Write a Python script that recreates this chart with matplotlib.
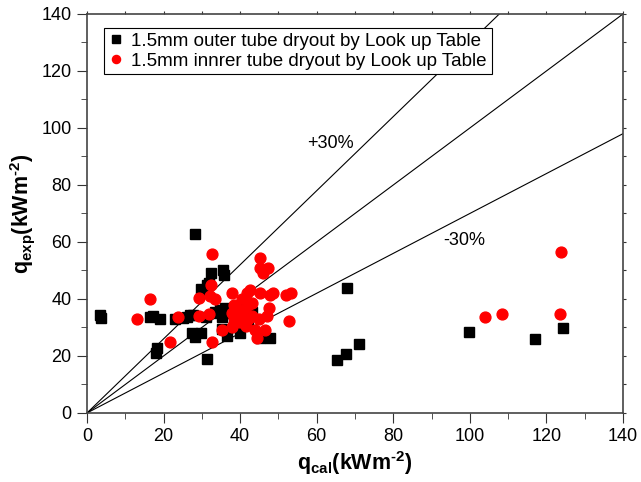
import numpy as np
import matplotlib.pyplot as plt

plt.rcParams['font.family'] = ['Liberation Sans', 'DejaVu Sans']
plt.rcParams['mathtext.fontset'] = 'custom'
plt.rcParams['mathtext.rm'] = 'Liberation Sans'
plt.rcParams['mathtext.it'] = 'Liberation Sans:italic'
plt.rcParams['mathtext.bf'] = 'Liberation Sans:bold'

# outer tube (black squares)
outer_x = [3.4, 3.6, 16.4, 17.3, 19.1, 18.2, 18.0, 23.0, 25.1, 26.0, 26.9, 27.8,
           28.2, 27.3, 28.2, 29.9, 29.9, 30.4, 31.4, 32.0, 31.3, 32.4, 35.4, 35.8,
           31.0, 33.4, 33.9, 35.2, 34.7, 36.0, 37.0, 38.0, 35.2, 36.5, 38.5, 40.0,
           42.0, 40.5, 43.0, 45.2, 47.8, 67.8, 65.2, 67.6, 71.1, 99.7, 117.0, 124.4]
outer_y = [34.4, 33.3, 33.6, 34.0, 32.9, 22.7, 21.0, 32.9, 33.2, 33.8, 34.4, 34.4,
           62.8, 28.2, 26.5, 28.2, 43.5, 43.2, 44.9, 45.5, 18.8, 49.0, 50.2, 48.4,
           33.7, 35.5, 35.0, 33.8, 36.1, 37.0, 35.0, 36.5, 29.4, 27.0, 30.0, 28.0,
           32.0, 37.5, 35.5, 26.2, 26.2, 44.0, 18.6, 20.6, 24.2, 28.5, 26.1, 29.7]

# inner tube (red circles)
inner_x = [13.0, 16.4, 21.7, 23.9, 29.2, 31.9, 29.2, 32.1, 33.4, 32.5,
           32.7, 32.7, 35.2, 45.2, 45.2, 47.3, 46.0,
           37.8, 41.7, 42.5, 45.2, 47.8, 48.6, 52.1, 53.4, 52.7,
           38.0, 39.0, 41.0, 42.0, 40.0, 38.0, 43.0, 44.0, 38.5, 45.0, 40.5,
           41.5, 38.5, 43.0, 40.5, 38.5, 39.5, 42.0,
           46.5, 44.3, 47.0, 47.5, 103.9, 108.3, 123.5, 123.7]
inner_y = [32.9, 39.9, 24.8, 33.8, 34.2, 34.6, 40.2, 41.1, 40.0, 44.9,
           55.9, 25.0, 29.1, 54.3, 50.8, 50.8, 49.0,
           42.0, 42.0, 43.0, 42.2, 41.4, 42.2, 41.4, 42.2, 32.3,
           35.0, 37.0, 36.0, 38.0, 32.0, 30.0, 34.0, 29.0, 33.5, 33.0, 34.5,
           30.5, 31.5, 38.5, 40.0, 38.0, 36.0, 33.0,
           29.1, 26.2, 34.0, 37.0, 33.6, 34.6, 34.6, 56.5]

fig = plt.figure(figsize=(6.41, 4.82), dpi=100)
ax = fig.add_axes([0.1357, 0.1432, 0.9719 - 0.1357, 0.971 - 0.1432])

xl = np.array([0, 140])
ax.plot(xl, xl, color='black', lw=0.8)
ax.plot(xl, 1.3 * xl, color='black', lw=0.8)
ax.plot(xl, 0.7 * xl, color='black', lw=0.8)

ax.plot(outer_x, outer_y, 's', color='black', markersize=7.5, linestyle='none',
        label='1.5mm outer tube dryout by Look up Table')
ax.plot(inner_x, inner_y, 'o', color='red', markersize=7.8, linestyle='none',
        label='1.5mm innrer tube dryout by Look up Table')

ax.text(63.5, 94.5, '+30%', fontsize=13, ha='center', va='center')
ax.text(98.5, 60.5, '-30%', fontsize=13, ha='center', va='center')

ax.set_xlim(0, 140)
ax.set_ylim(0, 140)
ax.set_xticks(np.arange(0, 141, 20))
ax.set_yticks(np.arange(0, 141, 20))
ax.set_xticks(np.arange(10, 140, 20), minor=True)
ax.set_yticks(np.arange(10, 140, 20), minor=True)
ax.tick_params(which='major', direction='out', length=7, pad=4, labelsize=13, color='#333333')
ax.tick_params(which='minor', direction='out', length=4.5, color='#333333')
for s in ax.spines.values():
    s.set_color('#444444')
    s.set_linewidth(1.2)

# small ticks on top and right
for side in ['top', 'right']:
    sec = ax.secondary_xaxis('top') if side == 'top' else ax.secondary_yaxis('right')
    sec.set_ticks(np.arange(0, 141, 10), labels=[])
    sec.tick_params(direction='out', length=2, color='#333333')
    sec.spines[side].set_visible(False)

ax.set_xlabel('$\\mathbf{q_{cal}(kWm^{\u20102})}$', fontsize=15.5, labelpad=3)
ax.set_ylabel('$\\mathbf{q_{exp}(kWm^{\u20102})}$', fontsize=15.5, labelpad=3)

leg = ax.legend(loc='upper left', bbox_to_anchor=(0.032, 0.965), fontsize=13.5,
                frameon=True, fancybox=False, edgecolor='black', framealpha=1,
                handlelength=0.8, handletextpad=0.4, borderpad=0.25, labelspacing=0.15,
                markerscale=0.75, borderaxespad=0)
leg.get_frame().set_linewidth(0.8)

plt.savefig('out.png', dpi=100)
